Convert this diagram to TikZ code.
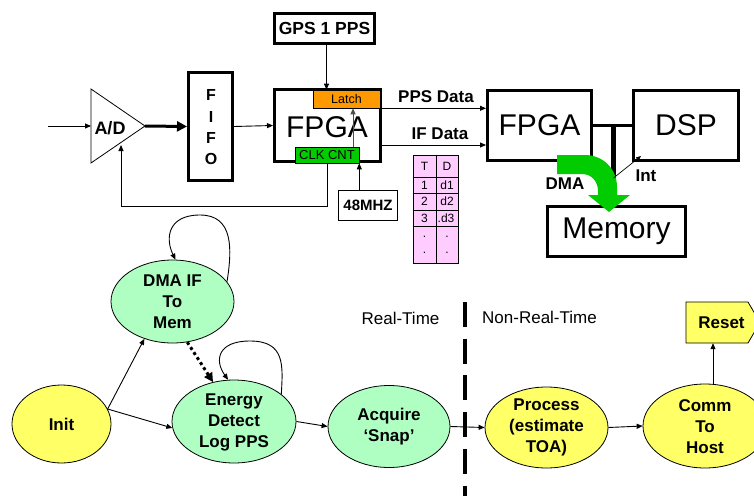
\documentclass[tikz,border=0pt]{standalone}
\usepackage{fontspec}
\setmainfont{Liberation Sans}
\usetikzlibrary{arrows.meta,shapes.geometric,calc}
\definecolor{lgreen}{RGB}{175,255,195}
\definecolor{yel}{RGB}{255,255,102}
\definecolor{orgc}{RGB}{255,153,0}
\definecolor{grnc}{RGB}{0,204,0}
\definecolor{pinkc}{RGB}{255,204,255}
\begin{document}
\begin{tikzpicture}[x=1pt,y=-1pt,
  arr/.style={-{Triangle[length=6pt,width=5pt]}, line width=0.9pt},
  bx/.style={draw, line width=3pt, inner sep=0pt, fill=white},
  lab/.style={font=\fontsize{17}{21}\selectfont\bfseries, align=center, inner sep=0pt},
  big/.style={font=\fontsize{30}{34}\selectfont, inner sep=0pt},
  st/.style={ellipse, draw, line width=0.8pt, inner sep=0pt},
  cell/.style={font=\fontsize{12}{14}\selectfont, inner sep=0pt},
]
\clip (0,0) rectangle (754,495);
\fill[white] (0,0) rectangle (754,495);

% ---------- A/D ----------
\coordinate (adT) at (91,89);
\coordinate (adB) at (91,163);
\coordinate (adA) at (145,126);
\coordinate (adL) at (91,126);
\coordinate (adIn) at (121,145);
\coordinate (inp) at (48,126);
\draw[line width=0.8pt] (adT) -- (adA) -- (adB) -- cycle;
\node[lab, font=\fontsize{18}{21}\selectfont\bfseries] (ad) at (110,128) {A/D};
\draw[arr] (inp) -- (adL);

% ---------- FIFO ----------
\node[bx, minimum width=44pt, minimum height=108pt] (fifo) at (210.5,126.5) {};
\node[lab, font=\fontsize{16}{21.3}\selectfont\bfseries] (fifot) at (211,127.5) {F\\I\\F\\O};
\draw[-{Triangle[length=10pt,width=10pt]}, line width=3pt] (adA) -- (fifo.west);

% ---------- FPGA 1 ----------
\node[bx, minimum width=106pt, minimum height=72pt] (fpga1) at (327.5,125.5) {};
\node[big] (fpgat) at (327,127) {FPGA};
\draw[arr] (fifo.east) -- (fpga1.west);
\node[draw, line width=0.6pt, fill=orgc, minimum width=67pt, minimum height=18pt, inner sep=0pt,
      font=\fontsize{12.5}{14}\selectfont] (latch) at (346.5,99) {Latch};
\node[draw, line width=0.6pt, fill=grnc, minimum width=64pt, minimum height=16pt, inner sep=0pt,
      font=\fontsize{13}{14}\selectfont] (clk) at (327,155) {CLK CNT};

\node[bx, minimum width=100pt, minimum height=30pt, lab, font=\fontsize{17.5}{21}\selectfont\bfseries] (gps) at (324.5,28.5) {GPS 1 PPS};
\draw[arr] ([xshift=2pt]gps.south) -- ([xshift=2pt]gps.south |- latch.north);

\node[draw, line width=0.8pt, fill=white, minimum width=59pt, minimum height=30pt, lab,
      font=\fontsize{15}{18}\selectfont\bfseries] (mhz) at (368,205.5) {48MHZ};
\draw[arr] (clk.south east |- mhz.north) -- (clk.south east);
\draw[arr, black!70] ([xshift=26pt]clk.north) -- ([xshift=26pt]clk.north |- latch.south);
\draw[arr] (clk.south) -- ++(0,43) -| (adIn);

% ---------- data lines ----------
\node[bx, minimum width=104pt, minimum height=70pt, big] (fpga2) at (539.5,125.5) {FPGA};
\node[bx, minimum width=105pt, minimum height=70pt, big] (dsp) at (686,125.5) {DSP};
\coordinate (ify) at (0,145);
\draw[arr] (latch.south east) -- (latch.south east -| fpga2.west);
\draw[arr] (fpga1.east |- ify) -- (fpga2.west |- ify);
\node[lab] (ppsl) at (436,97) {PPS Data};
\node[lab] (ifl) at (440,134) {IF Data};

% ---------- table ----------
\node[draw, line width=0.6pt, fill=pinkc, minimum width=45pt, minimum height=108pt, inner sep=0pt] (tbl) at (435.5,209) {};
\coordinate (r1) at (0,177);
\coordinate (r2) at (0,193);
\coordinate (r3) at (0,210);
\coordinate (r4) at (0,226);
\coordinate (cx) at (436,0);
\draw[line width=0.6pt] (tbl.north -| cx) -- (tbl.south -| cx);
\foreach \r in {r1,r2,r3,r4}{\draw[line width=0.6pt] (tbl.west |- \r) -- (tbl.east |- \r);}
\node[cell] (t0a) at (424.5,166) {T};
\node[cell] (t0b) at (447,166) {D};
\node[cell] (t1a) at (424.5,185) {1};
\node[cell] (t1b) at (447,185) {d1};
\node[cell] (t2a) at (424.5,201.5) {2};
\node[cell] (t2b) at (447,201.5) {d2};
\node[cell] (t3a) at (424.5,218) {3};
\node[cell] (t3b) at (446,218) {.d3};
\node[cell] (t4a) at (424.5,237) {.};
\node[cell] (t4b) at (447,237) {.};
\node[cell] (t5a) at (424.5,253) {.};
\node[cell] (t5b) at (447,253) {.};

% ---------- bus, memory, DMA ----------
\node[bx, minimum width=138pt, minimum height=50pt, big] (mem) at (616.5,231.5) {Memory};
\coordinate (stT) at (613.5,124.5);
\coordinate (stB) at (613.5,178);
\draw[line width=3pt] (fpga2.east) -- (dsp.west);
\draw[line width=5pt] (stT) -- (stB);
\fill[grnc] (557,155) -- (585,155) .. controls (603,155) and (617,169) .. (617,187)
  -- (617,195) -- (630,195) -- (609,212) -- (588,195) -- (598,195) -- (598,191)
  .. controls (598,181) and (591,174) .. (582,174) -- (557,174) -- cycle;
\draw[-{Triangle[length=5pt,width=4pt]}, line width=0.7pt] (stB) -- ([xshift=9pt,yshift=6pt]dsp.south west);
\node[lab] (dmal) at (565,184) {DMA};
\node[lab] (intl) at (646,176) {Int};

% ---------- state machine ----------
\node[st, fill=lgreen, minimum width=123pt, minimum height=83pt] (dma) at (172.5,301.5) {};
\node[lab] (dmat) at (dma) {DMA IF\\To\\Mem};
\node[st, fill=lgreen, minimum width=124pt, minimum height=83pt] (energy) at (234,421.5) {};
\node[lab] (energyt) at (234,422.5) {Energy\\Detect\\Log PPS};
\node[st, fill=yel, minimum width=99pt, minimum height=78pt] (init) at (61.5,424) {};
\node[lab] (initt) at (init) {Init};
\node[st, fill=lgreen, minimum width=122pt, minimum height=82pt] (acq) at (389,426.5) {};
\node[lab] (acqt) at (389,427) {Acquire\\‘Snap’};
\node[st, fill=yel, minimum width=123pt, minimum height=81pt] (proc) at (546.5,427.5) {};
\node[lab] (proct) at (546.5,427.5) {Process\\(estimate\\TOA)};
\node[st, fill=yel, minimum width=124pt, minimum height=84pt] (comm) at (705,426) {};
\node[lab] (commt) at (705,427) {Comm\\To\\Host};

\draw[fill=yel, line width=0.8pt] (686,302) -- (748,302) -- (760,322.5) -- (748,343) -- (686,343) -- cycle;
\node[lab, minimum width=60pt, minimum height=41pt] (reset) at (716,322.5) {};
\node[lab] (resett) at (721.5,323) {Reset};
\coordinate (rsx) at (713,0);
\draw[arr] (comm.north -| rsx) -- (rsx |- reset.south);

\draw[arr] (dma.20) .. controls (232,250) and (234,215) .. (200,215)
  .. controls (168,215) and (165,238) .. (dma.86);
\draw[arr] (energy.30) .. controls (283,365) and (285,341) .. (250,341)
  .. controls (218,341) and (214,360) .. (energy.98);
\draw[line width=3pt, dash pattern=on 3pt off 3pt, -{Triangle[length=9pt,width=9pt]}] (dma.-70) -- (energy.118);
\draw[arr] (init.18) -- (dma.233);
\draw[arr] (init.18) -- (energy.186);
\draw[arr] (energy.east) -- (acq.west);
\draw[arr] (acq.east) -- (proc.west);
\draw[arr] (proc.east) -- (comm.west);

\coordinate (d1) at (465,302);
\coordinate (d2) at (465,500);
\draw[line width=4pt, dash pattern=on 25pt off 11.7pt] (d1) -- (d2);
\node[font=\fontsize{17}{20}\selectfont, inner sep=0pt] (rt) at (400.5,318) {Real-Time};
\node[font=\fontsize{17}{20}\selectfont, inner sep=0pt] (nrt) at (539.5,317) {Non-Real-Time};
\end{tikzpicture}
\end{document}
